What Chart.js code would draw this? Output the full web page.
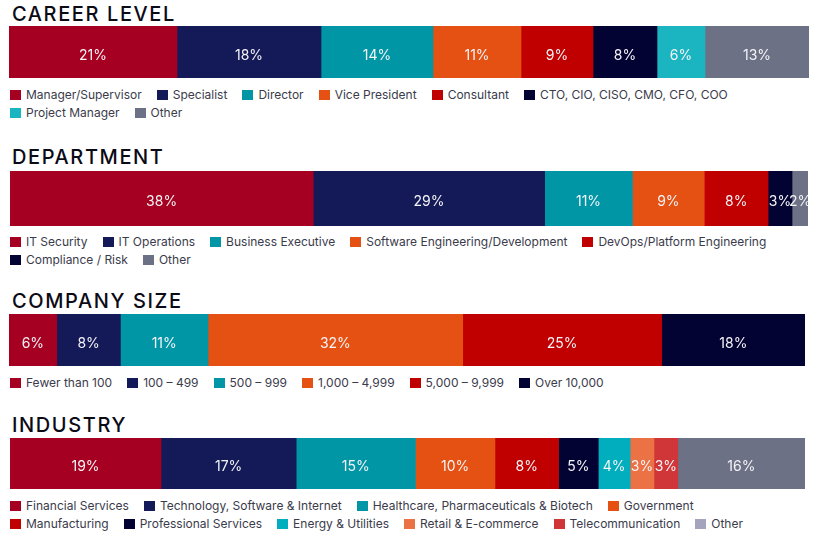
<!DOCTYPE html>
<html>
<head>
<meta charset="utf-8">
<script src="https://cdn.jsdelivr.net/npm/chart.js@4.4.0/dist/chart.umd.min.js"></script>
<style>
  body { margin: 0; background: #fff; width: 817px; height: 552px; position: relative; overflow: hidden; font-family: Inter, "Noto Sans", sans-serif; }
  .title { position: absolute; left: 12px; font-size: 20px; line-height: 20px; font-weight: 500; letter-spacing: 1.6px; color: #0b0b16; white-space: nowrap; }
  canvas { position: absolute; }
  .legend { position: absolute; left: 10px; width: 785px; display: flex; flex-wrap: wrap; column-gap: 15px; font-size: 12px; line-height: 18px; color: #3b3b4b; }
  .item { display: flex; align-items: center; white-space: nowrap; }
  .box { width: 11px; height: 10px; margin-right: 5px; flex: none; }
</style>
</head>
<body>
<script>
// --- data ---
var careerLabels = ["Manager/Supervisor", "Specialist", "Director", "Vice President", "Consultant", "CTO, CIO, CISO, CMO, CFO, COO", "Project Manager", "Other"];
var careerValues = [21, 18, 14, 11, 9, 8, 6, 13];
var careerColors = ["#a50021", "#141a58", "#0096a6", "#e55013", "#c00000", "#030333", "#1bb5c1", "#6c7185"];

var deptLabels = ["IT Security", "IT Operations", "Business Executive", "Software Engineering/Development", "DevOps/Platform Engineering", "Compliance / Risk", "Other"];
var deptValues = [38, 29, 11, 9, 8, 3, 2];
var deptColors = ["#a50021", "#141a58", "#0096a6", "#e55013", "#c00000", "#030333", "#6c7185"];

var sizeLabels = ["Fewer than 100", "100 \u2013 499", "500 \u2013 999", "1,000 \u2013 4,999", "5,000 \u2013 9,999", "Over 10,000"];
var sizeValues = [6, 8, 11, 32, 25, 18];
var sizeColors = ["#a50021", "#141a58", "#0096a6", "#e55013", "#c00000", "#030333"];

var industryLabels = ["Financial Services", "Technology, Software & Internet", "Healthcare, Pharmaceuticals & Biotech", "Government", "Manufacturing", "Professional Services", "Energy & Utilities", "Retail & E-commerce", "Telecommunication", "Other"];
var industryValues = [19, 17, 15, 10, 8, 5, 4, 3, 3, 16];
var industryColors = ["#a50021", "#141a58", "#0096a6", "#e55013", "#c00000", "#030333", "#00aebd", "#eb7244", "#d03538", "#6c7185"];
var industryLegendColors = ["#a50021", "#141a58", "#0096a6", "#e55013", "#c00000", "#030333", "#00aebd", "#eb7244", "#d03538", "#a4a4bd"];

// --- layout of each block ---
var sections = [
    { title: "CAREER LEVEL", labels: careerLabels, values: careerValues, colors: careerColors, legendColors: careerColors,
      titleTop: 4, barLeft: 9, barTop: 26, barWidth: 800, barHeight: 52, legendTop: 86 },
    { title: "DEPARTMENT", labels: deptLabels, values: deptValues, colors: deptColors, legendColors: deptColors,
      titleTop: 147, barLeft: 10, barTop: 171, barWidth: 798, barHeight: 55, legendTop: 233 },
    { title: "COMPANY SIZE", labels: sizeLabels, values: sizeValues, colors: sizeColors, legendColors: sizeColors,
      titleTop: 291, barLeft: 9, barTop: 314, barWidth: 796, barHeight: 52, legendTop: 374 },
    { title: "INDUSTRY", labels: industryLabels, values: industryValues, colors: industryColors, legendColors: industryLegendColors,
      titleTop: 415, barLeft: 10, barTop: 438, barWidth: 795, barHeight: 51, legendTop: 497 }
];

// white percentage text in the middle of each segment
var pctLabels = {
    id: 'pctLabels',
    afterDatasetsDraw: function (chart) {
        var ctx = chart.ctx;
        ctx.save();
        ctx.font = '14px Inter';
        ctx.fillStyle = '#f4f4f7';
        ctx.textAlign = 'center';
        ctx.textBaseline = 'alphabetic';
        chart.data.datasets.forEach(function (ds, i) {
            var bar = chart.getDatasetMeta(i).data[0];
            ctx.fillText(ds.data[0] + '%', (bar.x + bar.base) / 2, bar.y + 7.5);
        });
        ctx.restore();
    }
};

function makeBar(canvas, labels, values, colors) {
    return new Chart(canvas, {
        type: 'bar',
        data: {
            labels: [''],
            datasets: labels.map(function (l, i) {
                return { label: l, data: [values[i]], backgroundColor: colors[i], borderWidth: 0,
                         barPercentage: 1, categoryPercentage: 1 };
            })
        },
        options: {
            indexAxis: 'y',
            responsive: false,
            animation: false,
            layout: { padding: 0 },
            plugins: { legend: { display: false }, tooltip: { enabled: false } },
            scales: {
                x: { stacked: true, display: false, min: 0, max: 100 },
                y: { stacked: true, display: false }
            }
        },
        plugins: [pctLabels]
    });
}

sections.forEach(function (s) {
    var t = document.createElement('div');
    t.className = 'title';
    t.style.top = s.titleTop + 'px';
    t.textContent = s.title;
    document.body.appendChild(t);

    var c = document.createElement('canvas');
    c.width = s.barWidth;
    c.height = s.barHeight;
    c.style.left = s.barLeft + 'px';
    c.style.top = s.barTop + 'px';
    document.body.appendChild(c);
    makeBar(c, s.labels, s.values, s.colors);

    var lg = document.createElement('div');
    lg.className = 'legend';
    lg.style.top = s.legendTop + 'px';
    s.labels.forEach(function (l, i) {
        var it = document.createElement('div');
        it.className = 'item';
        var b = document.createElement('span');
        b.className = 'box';
        b.style.background = s.legendColors[i];
        it.appendChild(b);
        it.appendChild(document.createTextNode(l));
        lg.appendChild(it);
    });
    document.body.appendChild(lg);
});
</script>
</body>
</html>
